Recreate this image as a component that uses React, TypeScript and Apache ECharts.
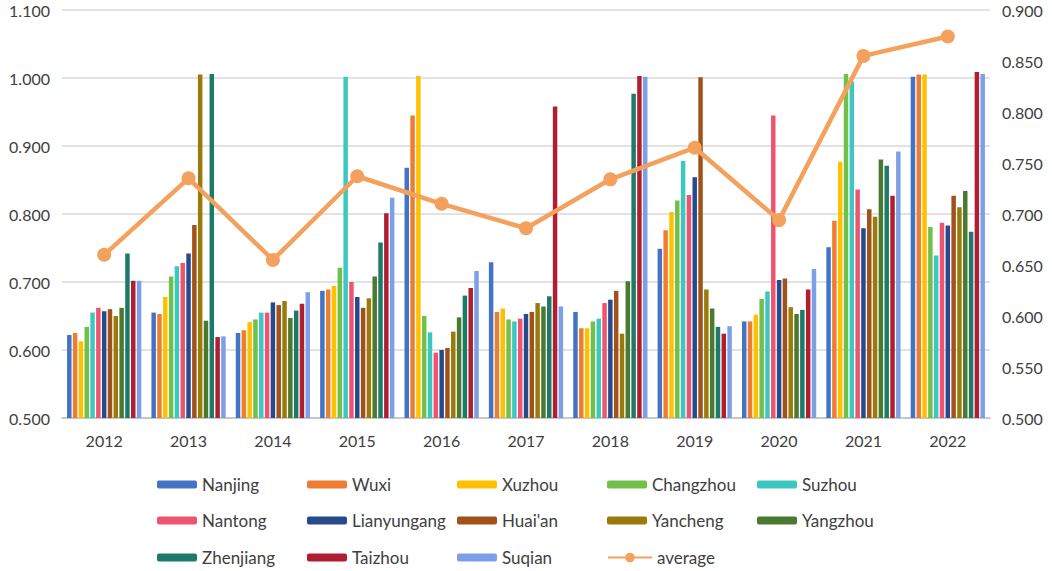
import React, { useEffect, useRef } from "react";
import * as echarts from "echarts";

const years = ["2012", "2013", "2014", "2015", "2016", "2017", "2018", "2019", "2020", "2021", "2022"];

const cities = ["Nanjing", "Wuxi", "Xuzhou", "Changzhou", "Suzhou", "Nantong", "Lianyungang", "Huai'an", "Yancheng", "Yangzhou", "Zhenjiang", "Taizhou", "Suqian"];

const cityColors = ["#4472C4", "#ED7D31", "#FFC000", "#70C04A", "#3CC8C0", "#EE5470", "#264A8C", "#A0521A", "#9C7A0A", "#4A7A30", "#1E7A68", "#B01E32", "#7C9FE6"];

const nanjing = [0.622, 0.655, 0.625, 0.687, 0.868, 0.729, 0.656, 0.749, 0.642, 0.751, 1.002];
const wuxi = [0.625, 0.653, 0.629, 0.689, 0.945, 0.656, 0.632, 0.776, 0.642, 0.790, 1.005];
const xuzhou = [0.613, 0.678, 0.641, 0.694, 1.003, 0.661, 0.632, 0.803, 0.652, 0.877, 1.005];
const changzhou = [0.634, 0.708, 0.645, 0.721, 0.650, 0.645, 0.642, 0.820, 0.675, 1.006, 0.781];
const suzhou = [0.655, 0.723, 0.655, 1.002, 0.626, 0.642, 0.646, 0.878, 0.686, 0.995, 0.739];
const nantong = [0.662, 0.728, 0.655, 0.700, 0.596, 0.646, 0.669, 0.828, 0.945, 0.836, 0.787];
const lianyungang = [0.657, 0.742, 0.670, 0.678, 0.600, 0.653, 0.674, 0.854, 0.703, 0.779, 0.783];
const huaian = [0.660, 0.784, 0.666, 0.662, 0.603, 0.656, 0.687, 1.001, 0.705, 0.807, 0.827];
const yancheng = [0.650, 1.005, 0.672, 0.676, 0.627, 0.669, 0.624, 0.689, 0.663, 0.796, 0.810];
const yangzhou = [0.662, 0.643, 0.647, 0.708, 0.648, 0.664, 0.701, 0.661, 0.653, 0.880, 0.834];
const zhenjiang = [0.742, 1.006, 0.658, 0.758, 0.680, 0.679, 0.977, 0.634, 0.659, 0.871, 0.774];
const taizhou = [0.702, 0.619, 0.668, 0.801, 0.691, 0.958, 1.003, 0.624, 0.689, 0.827, 1.009];
const suqian = [0.702, 0.620, 0.685, 0.824, 0.716, 0.664, 1.002, 0.635, 0.719, 0.892, 1.006];
const average = [0.660, 0.735, 0.655, 0.737, 0.710, 0.686, 0.734, 0.765, 0.694, 0.855, 0.874];

const cityValues = [nanjing, wuxi, xuzhou, changzhou, suzhou, nantong, lianyungang, huaian, yancheng, yangzhou, zhenjiang, taizhou, suqian];

const leftTicks = { min: 0.5, max: 1.1, interval: 0.1 };
const rightTicks = { min: 0.5, max: 0.9, interval: 0.05 };

const FONT = "Lato, 'Open Sans', sans-serif";
const TEXT = "#404040";

export default function App() {
  const ref = useRef<HTMLDivElement>(null);

  useEffect(() => {
    if (!ref.current) return;
    const chart = echarts.init(ref.current, null, { renderer: "svg" });

    const names = [...cities, "average"];
    const colX = [157, 307, 457, 607, 757];
    const rowY = [486, 522, 559];
    const legends = names.map((n, i) => ({
      data: [n],
      left: colX[i % 5],
      top: rowY[Math.floor(i / 5)] - 10,
      padding: 0,
      itemWidth: n === "average" ? 44 : 40,
      itemHeight: n === "average" ? 12 : 8,
      itemGap: 0,
      textStyle: { fontFamily: FONT, fontSize: 17, color: TEXT, padding: [0, 0, 0, 0] },
    }));

    const barSeries = cities.map((c, i) => ({
      name: c,
      type: "bar",
      yAxisIndex: 0,
      data: cityValues[i],
      itemStyle: { color: cityColors[i] },
      barGap: "30%",
      barCategoryGap: "12%",
    }));

    chart.setOption({
      animation: false,
      backgroundColor: "#ffffff",
      textStyle: { fontFamily: FONT },
      grid: { left: 62, right: 62, top: 10, bottom: 153, containLabel: false },
      legend: legends,
      xAxis: {
        type: "category",
        data: years,
        axisTick: { show: false },
        axisLine: { lineStyle: { color: "#BFBFBF", width: 1.5 } },
        axisLabel: { fontFamily: FONT, fontSize: 16, color: TEXT, margin: 14 },
      },
      yAxis: [
        {
          type: "value",
          min: leftTicks.min,
          max: leftTicks.max,
          interval: leftTicks.interval,
          axisLine: { show: false },
          axisTick: { show: false },
          splitLine: { lineStyle: { color: "#D9D9D9", width: 1.5 } },
          axisLabel: { fontFamily: FONT, fontSize: 16, color: TEXT, margin: 12, formatter: (v: number) => v.toFixed(3) },
        },
        {
          type: "value",
          position: "right",
          min: rightTicks.min,
          max: rightTicks.max,
          interval: rightTicks.interval,
          axisLine: { show: false },
          axisTick: { show: false },
          splitLine: { show: false },
          axisLabel: { fontFamily: FONT, fontSize: 16, color: TEXT, margin: 12, formatter: (v: number) => v.toFixed(3) },
        },
      ],
      series: [
        ...barSeries,
        {
          name: "average",
          type: "line",
          yAxisIndex: 1,
          data: average,
          symbol: "circle",
          symbolSize: 14,
          itemStyle: { color: "#F4A15D" },
          lineStyle: { color: "#F4A15D", width: 4.5 },
          z: 10,
        },
      ],
    });

    return () => chart.dispose();
  }, []);

  return (
    <div
      ref={ref}
      style={{ position: "fixed", left: 0, top: 0, width: 1052, height: 571 }}
    />
  );
}
